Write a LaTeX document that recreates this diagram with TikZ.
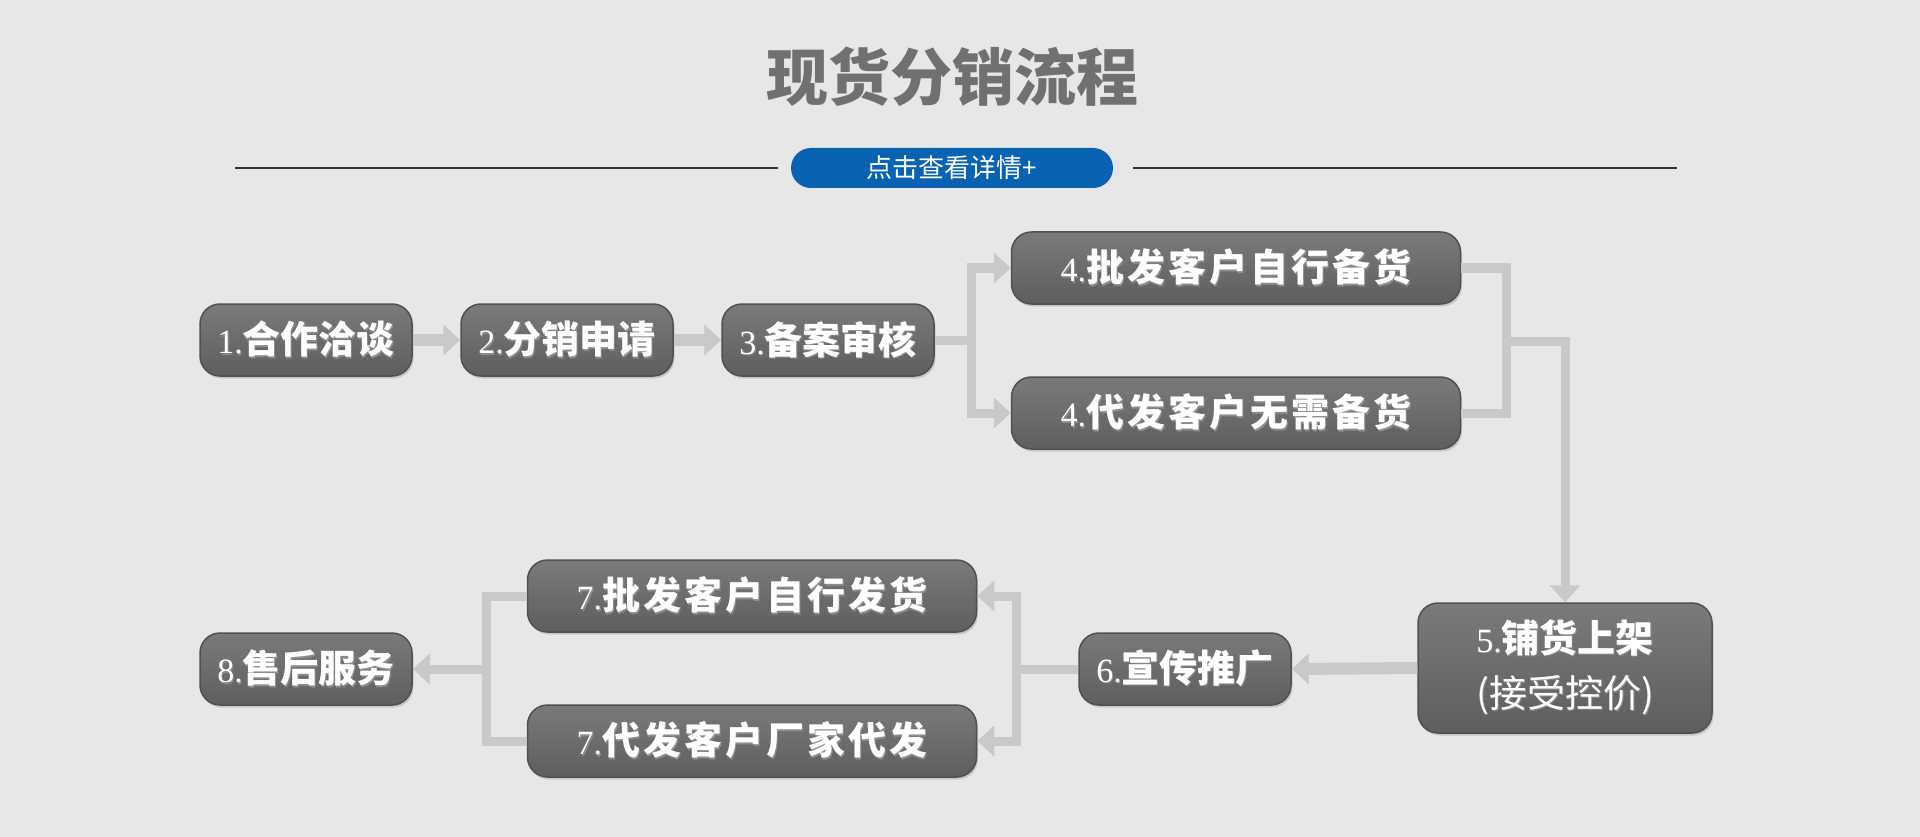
\documentclass[tikz,border=0pt]{standalone}
\usepackage{fontspec}
\newfontfamily\cjk{Noto Sans CJK SC}
\newfontfamily\cjkwide{Noto Sans CJK SC}[LetterSpace=8]
\newfontfamily\numfont{Liberation Serif}
\usetikzlibrary{arrows.meta,shadows}
\definecolor{bgGray}{HTML}{E7E7E7}
\definecolor{titleGray}{HTML}{707070}
\definecolor{pillBlue}{HTML}{0862B2}
\definecolor{flowGray}{HTML}{C9C9C9}
\definecolor{boxTop}{HTML}{7A7A7A}
\definecolor{boxBot}{HTML}{5E5E5E}
\definecolor{boxEdge}{HTML}{505050}
\newcommand\boxtext[1]{\leavevmode\rlap{\kern1.2pt\raisebox{-1.2pt}{\textcolor{black!45}{#1}}}#1}
\newcommand\stepno[1]{{\numfont\mdseries\fontsize{34}{40}\selectfont #1}}
\tikzset{
  stepbox/.style={rectangle, rounded corners=20pt, minimum height=72pt, minimum width=212pt,
    draw=boxEdge, line width=1.5pt, top color=boxTop, bottom color=boxBot,
    drop shadow={shadow xshift=1.5pt, shadow yshift=-2.5pt, opacity=.3},
    text=white, inner sep=0pt, font=\cjk\bfseries\fontsize{38}{55}\selectfont},
  widebox/.style={stepbox, minimum width=449pt, font=\cjkwide\bfseries\fontsize{38}{55}\selectfont},
  flow/.style={draw=flowGray, line width=9pt},
  bigflow/.style={draw=flowGray, line width=12pt},
  flowtip/.style={-{Triangle[length=17pt,width=30pt]}},
  pill/.style={rectangle, rounded corners=20pt, fill=pillBlue, minimum width=322pt, minimum height=40pt,
    text=white, font=\cjk\fontsize{26}{30}\selectfont}
}
\begin{document}
\begin{tikzpicture}[x=1pt,y=-1pt]
    \fill[bgGray] (0,0) rectangle (1920,837);
    % Title
    \node[text=titleGray, font=\cjk\bfseries\fontsize{62}{70}\selectfont] (title) at (952,77) {现货分销流程};
    \node[pill] (detail) at (952,168) {点击查看详情+};
    \draw[black!80, line width=1.2pt] (235,168) -- ([xshift=-13pt]detail.west);
    \draw[black!80, line width=1.2pt] ([xshift=20pt]detail.east) -- (1677,168);
    % Upper row
    \node[stepbox] (b1) at (306,340) {\boxtext{\stepno{1.}合作洽谈}};
    \node[stepbox] (b2) at (567,340) {\boxtext{\stepno{2.}分销申请}};
    \node[stepbox] (b3) at (828,340) {\boxtext{\stepno{3.}备案审核}};
    \node[widebox] (b4a) at (1236,268) {\boxtext{\stepno{4.}批发客户自行备货}};
    \node[widebox] (b4b) at (1236,413) {\boxtext{\stepno{4.}代发客户无需备货}};
    % Lower row
    \node[stepbox, minimum width=294pt, minimum height=130pt, align=center] (b5) at (1565,668)
      {\boxtext{\stepno{5.}铺货上架}\\\boxtext{\mdseries(接受控价)}};
    \node[stepbox] (b6) at (1185,669) {\boxtext{\stepno{6.}宣传推广}};
    \node[widebox] (b7a) at (752,596) {\boxtext{\stepno{7.}批发客户自行发货}};
    \node[widebox] (b7b) at (752,741) {\boxtext{\stepno{7.}代发客户厂家代发}};
    \node[stepbox] (b8) at (306,669) {\boxtext{\stepno{8.}售后服务}};
    % Connectors, upper row
    \draw[bigflow,flowtip] (b1.east) -- (b2.west);
    \draw[bigflow,flowtip] (b2.east) -- (b3.west);
    \coordinate (split1) at (971,340);
    \draw[flow] (b3.east) -- (split1);
    \draw[flow,flowtip] (split1) |- (b4a.west);
    \draw[flow,flowtip] (split1) |- (b4b.west);
    \coordinate (merge1) at (1506,341);
    \draw[flow] (b4a.east) -| (merge1);
    \draw[flow] (b4b.east) -| (merge1);
    \draw[flow,flowtip] (merge1) -| (b5.north);
    % Connectors, lower row
    \draw[bigflow,flowtip] (b5.west) -- (b6.east);
    \coordinate (split2) at (1016,669);
    \draw[flow] (b6.west) -- (split2);
    \draw[flow,flowtip] (split2) |- (b7a.east);
    \draw[flow,flowtip] (split2) |- (b7b.east);
    \coordinate (merge2) at (486,669);
    \draw[flow] (b7a.west) -| (merge2);
    \draw[flow] (b7b.west) -| (merge2);
    \draw[flow,flowtip] (merge2) -- (b8.east);
\end{tikzpicture}
\end{document}
